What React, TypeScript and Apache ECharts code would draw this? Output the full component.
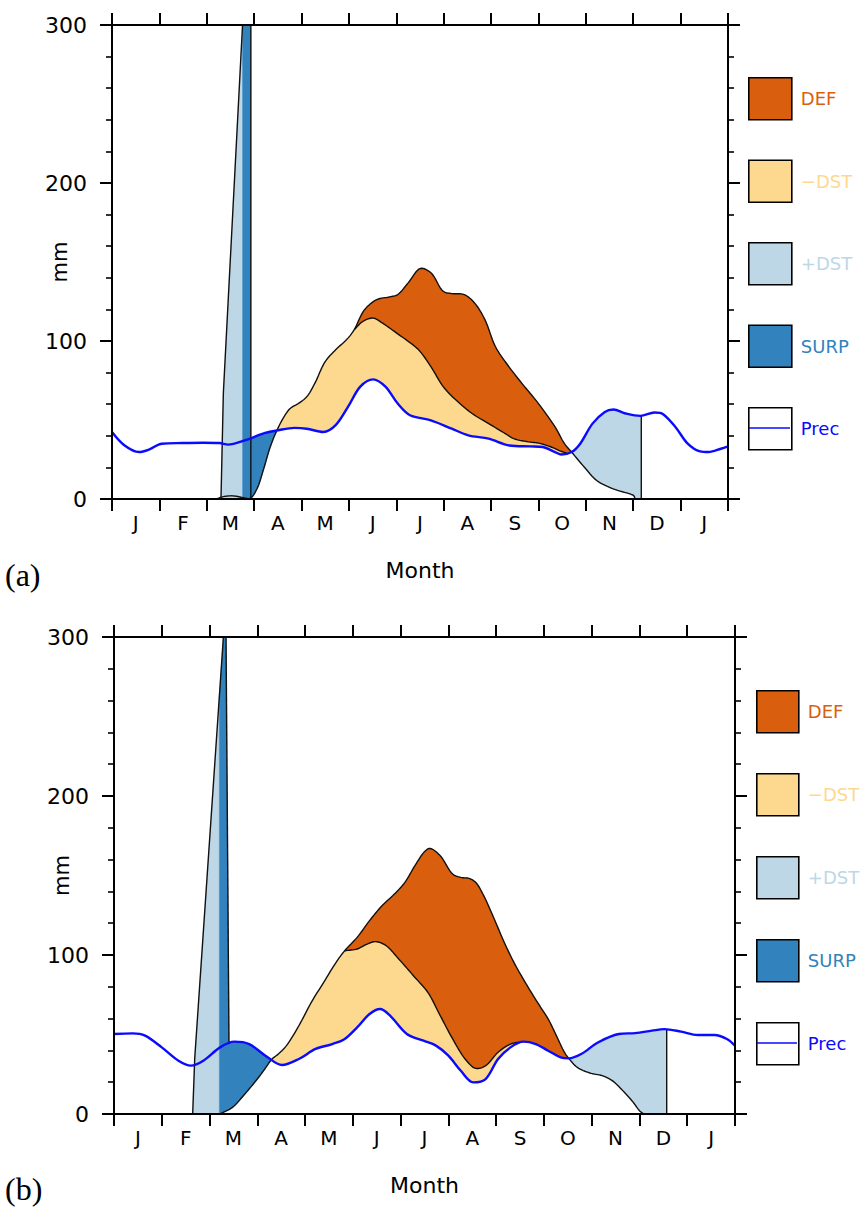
import React, { useEffect, useRef } from "react";
import * as echarts from "echarts";

// ---------------- shared ----------------
const MONTHS = ["J", "F", "M", "A", "M", "J", "J", "A", "S", "O", "N", "D", "J"];
const Y_MIN = 0;
const Y_MAX = 300;
const Y_STEP = 100;
const LEGEND_NAMES = ["DEF", "\u2212DST", "+DST", "SURP", "Prec"];

// ---------------- panel (a) ----------------
const precAX = [0, 0.26, 0.57, 0.79, 1.05, 1.49, 1.92, 2.27, 2.45, 2.8, 3.23, 3.5, 3.85, 4.11, 4.46, 4.72, 4.98, 5.24, 5.51, 5.77, 6.03, 6.29, 6.73, 7.17, 7.52, 7.95, 8.39, 8.83, 9.09, 9.35, 9.48, 9.7, 9.88, 10.14, 10.4, 10.58, 10.84, 11.15, 11.45, 11.63, 11.89, 12.15, 12.41, 12.59, 12.85, 13];
const precAY = [42.4, 34.0, 29.7, 31.4, 35.0, 35.4, 35.6, 35.4, 34.4, 37.1, 41.8, 43.5, 45.0, 44.5, 42.4, 46.7, 58.3, 71.1, 75.7, 71.1, 60.4, 53.0, 49.8, 44.5, 40.3, 38.2, 33.9, 33.3, 32.9, 29.7, 28.2, 29.7, 35.0, 47.7, 55.1, 56.6, 54.1, 52.6, 54.7, 53.7, 45.6, 35.0, 30.1, 29.7, 31.8, 33.3];
const petAX = [2.2, 2.35, 2.55, 2.75, 2.92, 3.06, 3.2, 3.34, 3.48, 3.63, 3.76, 3.93, 4.11, 4.28, 4.5, 4.72, 4.98, 5.11, 5.33, 5.59, 5.86, 6.03, 6.25, 6.51, 6.73, 6.99, 7.17, 7.43, 7.65, 7.87, 8.09, 8.35, 8.65, 9.0, 9.35, 9.55, 9.7, 9.97, 10.23, 10.58, 10.93, 11.01, 11.04];
const petAY = [0, 1.5, 2, 1, 0.5, 6.5, 19, 33, 43.4, 52, 57.3, 60.4, 64.7, 73.2, 87, 94.4, 101.8, 107.1, 119.8, 126.2, 127.9, 129.4, 136.8, 145.9, 143.2, 131.5, 130, 129.4, 124.1, 113.5, 96.5, 84.8, 73.2, 60.4, 45.6, 35, 29.7, 20.1, 11.7, 6.4, 3.2, 2.1, 0];
const aetAX = [5.11, 5.3, 5.51, 5.7, 5.86, 6.03, 6.21, 6.47, 6.73, 6.99, 7.26, 7.6, 7.95, 8.3, 8.48, 8.83, 9.0, 9.27, 9.45, 9.6];
const aetAY = [107.1, 112.5, 114.5, 111.5, 108.2, 104.5, 100.7, 94.4, 83.8, 71.1, 62.6, 54.1, 47.7, 41.4, 38.2, 36, 35.4, 32.9, 30.5, 29];
const spikeAX = [2.3, 2.35, 2.755];
const spikeAY = [0, 67, 300];
const breaksA = { spikeStart: 2.3, surpStart: 2.755, surpEnd: 2.93, riseCross: 3.48, defStart: 5.11, aetEnd: 9.6, fallCross: 9.7, petStart: 2.2, petZero: 11.04, rechargeEnd: 11.17 };

// ---------------- panel (b) ----------------
const precBX = [0, 0.39, 0.65, 1.0, 1.35, 1.61, 1.87, 2.22, 2.52, 2.83, 3.17, 3.52, 3.87, 4.22, 4.57, 4.83, 5.09, 5.35, 5.57, 5.78, 6.13, 6.48, 6.74, 7.0, 7.26, 7.52, 7.78, 8.04, 8.3, 8.57, 8.83, 9.09, 9.35, 9.52, 9.78, 10.13, 10.57, 10.91, 11.26, 11.52, 11.87, 12.22, 12.57, 12.83, 13];
const precBY = [50.3, 50.7, 49.3, 41.9, 33.5, 30.4, 33.5, 41.9, 45.5, 44, 36.7, 30.8, 34.6, 40.9, 44, 47.2, 54.5, 62.9, 66, 61.8, 50.3, 46.1, 43, 36.7, 27.2, 19.9, 22, 34.6, 41.9, 45.5, 44, 39.8, 35.6, 35, 37.7, 45, 50.3, 50.9, 52.4, 53.4, 51.8, 49.7, 49.7, 47.2, 43];
const petBX = [2.22, 2.48, 2.74, 3.0, 3.15, 3.3, 3.45, 3.61, 3.87, 4.13, 4.39, 4.65, 4.83, 5.09, 5.35, 5.61, 5.87, 6.09, 6.3, 6.52, 6.62, 6.83, 7.09, 7.26, 7.43, 7.57, 7.74, 7.96, 8.17, 8.39, 8.65, 8.91, 9.09, 9.26, 9.43, 9.52, 9.7, 9.96, 10.22, 10.43, 10.65, 10.87, 11.0, 11.09];
const petBY = [0, 4.2, 12.6, 22, 28, 34.3, 38, 43, 55.5, 70.2, 82.8, 95.4, 102.7, 111.1, 121.6, 131, 138.3, 145.7, 156.2, 165.6, 167, 162.4, 150.9, 148.8, 148.2, 145.7, 137.3, 122.6, 107.9, 94.3, 80.7, 68.1, 59.7, 49.3, 38.8, 35, 29.3, 25.8, 24.1, 21, 14.7, 7.3, 2.1, 0];
const aetBX = [4.83, 5.09, 5.3, 5.48, 5.7, 5.96, 6.3, 6.57, 6.83, 7.09, 7.35, 7.57, 7.78, 8.04, 8.3, 8.57];
const aetBY = [102.7, 103.8, 106.9, 108.4, 105.8, 97.5, 85.9, 76.5, 61.8, 47.2, 34.6, 28.7, 30.4, 38.8, 44, 45.5];
const spikeLBX = [1.647, 1.69, 2.29];
const spikeLBY = [0, 35, 300];
const spikeRBX = [2.345, 2.407];
const spikeRBY = [300, 44.1];
const breaksB = { spikeStart: 1.647, surpStart: 2.205, spikeTopL: 2.29, spikeTopR: 2.345, spikeEnd: 2.407, petStart: 2.22, riseCross: 3.3, defStart: 4.83, aetEnd: 8.57, fallCross: 9.52, petZero: 11.09, rechargeEnd: 11.57 };

// ---------------- styles ----------------
const FONT = "DejaVu Sans";
const C_DEF = "#d95f0e";
const C_NDST = "#fdd98f";
const C_PDST = "#bdd7e7";
const C_SURP = "#3182bd";
const C_PREC = "#0a0aff";

type Piece = { c: string; from: number; to: number } | { p: [number, number] } | { c: string; at: number };

// ---- geometry helpers (pixel space, after the axes' scales) ----
function densify(pts: number[][], smooth: boolean, steps = 8): number[][] {
  if (!smooth || pts.length < 3) return pts.map((p) => [p[0], p[1]]);
  const out: number[][] = [[pts[0][0], pts[0][1]]];
  const n = pts.length;
  const d = (a: number[], b: number[]) => Math.max(Math.pow(Math.hypot(b[0] - a[0], b[1] - a[1]), 0.5), 1e-4);
  for (let i = 0; i < n - 1; i++) {
    const p1 = pts[i];
    const p2 = pts[i + 1];
    const p0 = i > 0 ? pts[i - 1] : [2 * p1[0] - p2[0], 2 * p1[1] - p2[1]];
    const p3 = i < n - 2 ? pts[i + 2] : [2 * p2[0] - p1[0], 2 * p2[1] - p1[1]];
    const t0 = 0;
    const t1 = t0 + d(p0, p1);
    const t2 = t1 + d(p1, p2);
    const t3 = t2 + d(p2, p3);
    for (let s = 1; s <= steps; s++) {
      const t = t1 + ((t2 - t1) * s) / steps;
      const L = (a: number[], b: number[], ta: number, tb: number) => [
        ((tb - t) * a[0] + (t - ta) * b[0]) / (tb - ta),
        ((tb - t) * a[1] + (t - ta) * b[1]) / (tb - ta),
      ];
      const A1 = L(p0, p1, t0, t1);
      const A2 = L(p1, p2, t1, t2);
      const A3 = L(p2, p3, t2, t3);
      const B1 = L(A1, A2, t0, t2);
      const B2 = L(A2, A3, t1, t3);
      out.push(L(B1, B2, t1, t2));
    }
  }
  return out;
}

function pointAt(curve: number[][], x: number): number[] {
  if (x <= curve[0][0]) return [x, curve[0][1]];
  for (let i = 0; i < curve.length - 1; i++) {
    const a = curve[i];
    const b = curve[i + 1];
    if ((x >= a[0] && x <= b[0]) || (x <= a[0] && x >= b[0])) {
      const f = b[0] === a[0] ? 0 : (x - a[0]) / (b[0] - a[0]);
      return [x, a[1] + f * (b[1] - a[1])];
    }
  }
  const last = curve[curve.length - 1];
  return [x, last[1]];
}

function cut(curve: number[][], a: number, b: number): number[][] {
  if (a > b) return cut(curve, b, a).reverse();
  const out: number[][] = [pointAt(curve, a)];
  for (const p of curve) if (p[0] > a && p[0] < b) out.push(p);
  out.push(pointAt(curve, b));
  return out;
}

type Panel = {
  curves: Record<string, [number[], number[]]>;
  linear: string[];
};

function makeRenderer(panel: Panel, shapes: Piece[][], kind: "polygon" | "polyline", style: any) {
  return (_params: any, api: any) => {
    const dense: Record<string, number[][]> = {};
    for (const k of Object.keys(panel.curves)) {
      const [xs, ys] = panel.curves[k];
      dense[k] = densify(xs.map((x, i) => api.coord([x, ys[i]])), panel.linear.indexOf(k) < 0);
    }
    const px = (x: number) => api.coord([x, 0])[0];
    const build = (pieces: Piece[]) => {
      const pts: number[][] = [];
      for (const pc of pieces) {
        if ("p" in pc) pts.push(api.coord(pc.p));
        else if ("at" in pc) pts.push(pointAt(dense[pc.c], px(pc.at)));
        else pts.push(...cut(dense[pc.c], px(pc.from), px(pc.to)));
      }
      return pts;
    };
    return {
      type: "group",
      children: shapes.map((s) => ({ type: kind, shape: { points: build(s) }, style, silent: true })),
    };
  };
}

// ---- panel definitions ----
const panelA: Panel = {
  curves: { prec: [precAX, precAY], pet: [petAX, petAY], aet: [aetAX, aetAY], spikeL: [spikeAX, spikeAY] },
  linear: ["spikeL"],
};
const bA = breaksA;
const regionsA: Record<string, Piece[][]> = {
  "+DST": [
    [{ c: "spikeL", from: bA.spikeStart, to: bA.surpStart }, { p: [bA.surpStart, Y_MIN] }],
    [{ c: "prec", from: bA.fallCross, to: bA.rechargeEnd }, { p: [bA.rechargeEnd, Y_MIN] }, { p: [bA.petZero, Y_MIN] }, { c: "pet", from: bA.petZero, to: bA.fallCross }],
  ],
  SURP: [
    [{ p: [bA.surpStart, Y_MIN] }, { p: [bA.surpStart, Y_MAX] }, { p: [bA.surpEnd, Y_MAX] }, { c: "prec", from: bA.surpEnd, to: bA.riseCross }, { c: "pet", from: bA.riseCross, to: bA.surpEnd }],
  ],
  "\u2212DST": [
    [{ c: "pet", from: bA.riseCross, to: bA.defStart }, { c: "aet", from: bA.defStart, to: bA.aetEnd }, { c: "prec", from: bA.aetEnd, to: bA.riseCross }],
  ],
  DEF: [
    [{ c: "pet", from: bA.defStart, to: bA.fallCross }, { c: "prec", from: bA.fallCross, to: bA.aetEnd }, { c: "aet", from: bA.aetEnd, to: bA.defStart }],
  ],
};
const outlinesA: Piece[][] = [
  [{ c: "pet", from: bA.petStart, to: bA.petZero }],
  [{ c: "aet", from: bA.defStart, to: bA.aetEnd }],
  [{ c: "spikeL", from: bA.spikeStart, to: bA.surpStart }],
  [{ p: [bA.surpEnd, Y_MAX] }, { p: [bA.surpEnd, Y_MIN] }],
  [{ c: "prec", at: bA.rechargeEnd }, { p: [bA.rechargeEnd, Y_MIN] }],
];

const panelB: Panel = {
  curves: { prec: [precBX, precBY], pet: [petBX, petBY], aet: [aetBX, aetBY], spikeL: [spikeLBX, spikeLBY], spikeR: [spikeRBX, spikeRBY] },
  linear: ["spikeL", "spikeR"],
};
const bB = breaksB;
const regionsB: Record<string, Piece[][]> = {
  "+DST": [
    [{ c: "spikeL", from: bB.spikeStart, to: bB.surpStart }, { p: [bB.surpStart, Y_MIN] }],
    [{ c: "prec", from: bB.fallCross, to: bB.rechargeEnd }, { p: [bB.rechargeEnd, Y_MIN] }, { p: [bB.petZero, Y_MIN] }, { c: "pet", from: bB.petZero, to: bB.fallCross }],
  ],
  SURP: [
    [{ p: [bB.surpStart, Y_MIN] }, { c: "spikeL", from: bB.surpStart, to: bB.spikeTopL }, { c: "spikeR", from: bB.spikeTopR, to: bB.spikeEnd }, { c: "prec", from: bB.spikeEnd, to: bB.riseCross }, { c: "pet", from: bB.riseCross, to: bB.petStart }],
  ],
  "\u2212DST": [
    [{ c: "pet", from: bB.riseCross, to: bB.defStart }, { c: "aet", from: bB.defStart, to: bB.aetEnd }, { c: "prec", from: bB.aetEnd, to: bB.riseCross }],
  ],
  DEF: [
    [{ c: "pet", from: bB.defStart, to: bB.fallCross }, { c: "prec", from: bB.fallCross, to: bB.aetEnd }, { c: "aet", from: bB.aetEnd, to: bB.defStart }],
  ],
};
const outlinesB: Piece[][] = [
  [{ c: "pet", from: bB.petStart, to: bB.petZero }],
  [{ c: "aet", from: bB.defStart, to: bB.aetEnd }],
  [{ c: "spikeL", from: bB.spikeStart, to: bB.spikeTopL }],
  [{ c: "spikeR", from: bB.spikeTopR, to: bB.spikeEnd }],
  [{ c: "prec", at: bB.rechargeEnd }, { p: [bB.rechargeEnd, Y_MIN] }],
];

const FILL_ORDER: [string, string][] = [
  ["+DST", C_PDST],
  ["SURP", C_SURP],
  ["\u2212DST", C_NDST],
  ["DEF", C_DEF],
];

function panelSeries(panel: Panel, regions: Record<string, Piece[][]>, outlines: Piece[][], precX: number[], precY: number[], xi: number, yi: number) {
  const out: any[] = [];
  for (const [name, color] of FILL_ORDER) {
    out.push({
      type: "custom",
      name,
      xAxisIndex: xi,
      yAxisIndex: yi,
      coordinateSystem: "cartesian2d",
      data: [[0, 0]],
      itemStyle: { color },
      z: 2,
      silent: true,
      renderItem: makeRenderer(panel, regions[name], "polygon", { fill: color, stroke: color, lineWidth: 0.4 }),
    });
  }
  out.push({
    type: "custom",
    name: "outline",
    xAxisIndex: xi,
    yAxisIndex: yi,
    coordinateSystem: "cartesian2d",
    data: [[0, 0]],
    z: 3,
    silent: true,
    renderItem: makeRenderer(panel, outlines, "polyline", { fill: "none", stroke: "#111", lineWidth: 1.4 }),
  });
  out.push({
    type: "line",
    name: "Prec",
    xAxisIndex: xi,
    yAxisIndex: yi,
    data: precX.map((x, i) => [x, precY[i]]),
    showSymbol: false,
    symbol: "none",
    smooth: 0.33,
    lineStyle: { color: C_PREC, width: 2.4 },
    itemStyle: { color: C_PREC },
    z: 5,
    silent: true,
  });
  return out;
}

function axesFor(gi: number) {
  const lineStyle = { color: "#000", width: 2 };
  const xData = { type: "value", gridIndex: gi, min: 0, max: MONTHS.length, show: false };
  const xBottom: any = {
    type: "category",
    gridIndex: gi,
    position: "bottom",
    data: MONTHS.map((_, i) => String(i)),
    boundaryGap: true,
    axisLine: { show: true, onZero: false, lineStyle },
    axisTick: { show: true, interval: 0, length: 12, inside: false, alignWithLabel: false, lineStyle },
    axisLabel: { interval: 0, formatter: (_v: string, i: number) => MONTHS[i], fontSize: 20, margin: 14, color: "#000", fontFamily: FONT },
    splitLine: { show: false },
    name: "Month",
    nameLocation: "middle",
    nameGap: 60,
    nameTextStyle: { fontSize: 22, color: "#000", fontFamily: FONT },
    z: 10,
  };
  const xTop: any = { ...xBottom, position: "top", axisLabel: { show: false }, name: "" };
  const yLeft: any = {
    type: "value",
    gridIndex: gi,
    position: "left",
    min: Y_MIN,
    max: Y_MAX,
    interval: Y_STEP,
    axisLine: { show: true, onZero: false, lineStyle },
    axisTick: { show: true, length: 12, inside: false, lineStyle },
    minorTick: { show: true, splitNumber: 5, length: 6, lineStyle: { color: "#000", width: 1.6 } },
    axisLabel: { fontSize: 22, margin: 25, color: "#000", fontFamily: FONT },
    splitLine: { show: false },
    minorSplitLine: { show: false },
    name: "mm",
    nameLocation: "middle",
    nameGap: 42,
    nameMoveOverlap: false,
    nameTextStyle: { fontSize: 21, color: "#000", fontFamily: FONT },
    z: 10,
  };
  const yRight: any = { ...yLeft, position: "right", axisLabel: { show: false }, name: "" };
  return { x: [xData, xBottom, xTop], y: [yLeft, yRight] };
}

const FILL_COLORS: Record<string, string> = { DEF: C_DEF, "\u2212DST": C_NDST, "+DST": C_PDST, SURP: C_SURP };

function legendFor(left: number, top: number, w: number, h: number, gap: number) {
  return {
    orient: "vertical",
    left,
    top,
    padding: 0,
    itemWidth: w,
    itemHeight: h,
    itemGap: gap,
    selectedMode: false,
    textStyle: { fontSize: 18, fontFamily: FONT, padding: [0, 0, 0, 4] },
    data: LEGEND_NAMES.map((name) =>
      name === "Prec"
        ? { name, icon: "rect", itemStyle: { color: "#fff", borderColor: "#000", borderWidth: 1.6 }, textStyle: { color: C_PREC } }
        : { name, icon: "rect", itemStyle: { color: FILL_COLORS[name], borderColor: "#000", borderWidth: 1.6 }, textStyle: { color: FILL_COLORS[name] } }
    ),
  };
}

export default function App() {
  const ref = useRef<HTMLDivElement>(null);
  useEffect(() => {
    if (!ref.current) return;
    const chart = echarts.init(ref.current, undefined, { renderer: "svg" });
    const axA = axesFor(0);
    const axB = axesFor(1);
    const option: any = {
      animation: false,
      backgroundColor: "#fff",
      textStyle: { fontFamily: FONT },
      grid: [
        { left: 112, top: 25, width: 616, height: 474 },
        { left: 114, top: 637, width: 621, height: 477 },
      ],
      xAxis: [...axA.x, ...axB.x],
      yAxis: [...axA.y, ...axB.y],
      legend: [legendFor(748, 77, 43, 42, 38.9), legendFor(756, 690, 42, 42, 39.4)],
      series: [
        ...panelSeries(panelA, regionsA, outlinesA, precAX, precAY, 0, 0),
        ...panelSeries(panelB, regionsB, outlinesB, precBX, precBY, 3, 2),
      ],
      graphic: [
        { type: "line", shape: { x1: 749, y1: 428, x2: 790, y2: 428 }, style: { stroke: C_PREC, lineWidth: 1.6 }, z: 20 },
        { type: "line", shape: { x1: 757, y1: 1043, x2: 797, y2: 1043 }, style: { stroke: C_PREC, lineWidth: 1.6 }, z: 20 },
        { type: "text", x: 5, y: 575, style: { text: "(a)", font: '32px "Liberation Serif"', fill: "#000", verticalAlign: "middle" } },
        { type: "text", x: 5, y: 1189, style: { text: "(b)", font: '32px "Liberation Serif"', fill: "#000", verticalAlign: "middle" } },
      ],
    };
    chart.setOption(option);
    return () => chart.dispose();
  }, []);
  return <div ref={ref} style={{ position: "absolute", left: 0, top: 0, width: 867, height: 1215 }} />;
}
